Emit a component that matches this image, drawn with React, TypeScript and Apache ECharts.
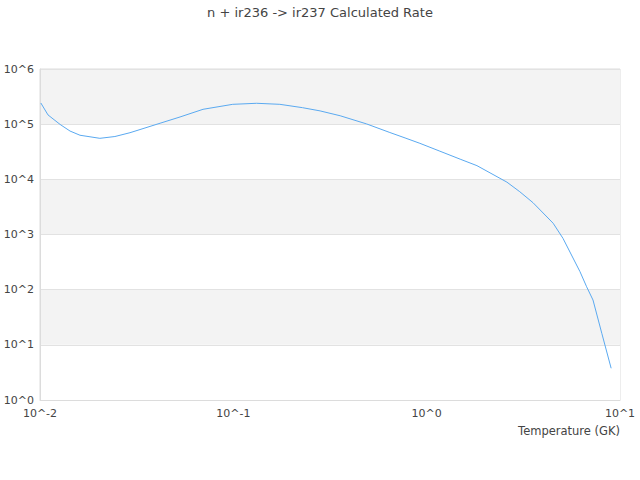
import React, { useEffect, useRef } from "react";
import * as echarts from "echarts";

const titleText = "n + ir236 -> ir237 Calculated Rate";
const xAxisName = "Temperature (GK)";

const temperatures = [
  0.0101, 0.011, 0.0127, 0.0143, 0.0161, 0.0204, 0.0244, 0.0292, 0.0418, 0.053,
  0.0697, 0.0993, 0.132, 0.174, 0.228, 0.281, 0.357, 0.489, 0.645, 0.773,
  0.922, 1.17, 1.49, 1.82, 2.6, 3.03, 3.55, 4.51, 5.07, 6.21,
  6.72, 7.25, 8.05, 9.0,
];
const rates = [
  2.42e5, 1.47e5, 9.9e4, 7.5e4, 6.3e4, 5.54e4, 5.97e4, 7.0e4, 1.04e5, 1.35e5,
  1.86e5, 2.29e5, 2.39e5, 2.29e5, 1.99e5, 1.74e5, 1.42e5, 1.01e5, 7.06e4, 5.63e4,
  4.5e4, 3.24e4, 2.32e4, 1.77e4, 8.9e3, 5.97e3, 3.77e3, 1.6e3, 853, 212,
  113, 65, 16.2, 3.76,
];

const FONT = "DejaVu Sans";

const powLabel = (v: number) => "10^" + Math.round(Math.log10(v));

export default function App() {
  const ref = useRef<HTMLDivElement>(null);
  useEffect(() => {
    if (!ref.current) return;
    const chart = echarts.init(ref.current, null, { renderer: "svg" });
    chart.setOption({
      animation: false,
      textStyle: { fontFamily: FONT },
      title: {
        text: titleText,
        left: "center",
        top: 1,
        textStyle: { fontSize: 13, fontWeight: "normal", color: "#444", fontFamily: FONT },
      },
      grid: {
        left: 40,
        right: 20,
        top: 69,
        bottom: 80,
        show: true,
        borderColor: "#dcdcdc",
        borderWidth: 1,
        backgroundColor: "transparent",
      },
      xAxis: {
        type: "log",
        logBase: 10,
        min: 0.01,
        max: 10,
        name: xAxisName,
        nameLocation: "end",
        nameGap: 0,
        nameTextStyle: {
          fontSize: 11.5,
          color: "#444",
          align: "right",
          verticalAlign: "top",
          padding: [25, 0, 0, 0],
        },
        axisLine: { show: true, lineStyle: { color: "#dcdcdc" } },
        axisTick: { show: false },
        splitLine: { show: false },
        axisLabel: { fontSize: 11, color: "#444", formatter: powLabel, margin: 8 },
      },
      yAxis: {
        type: "log",
        logBase: 10,
        min: 1,
        max: 1e6,
        axisLine: { show: true, lineStyle: { color: "#dcdcdc" } },
        axisTick: { show: false },
        splitLine: { show: true, lineStyle: { color: "#e2e2e2" } },
        splitArea: { show: true, areaStyle: { color: ["#ffffff", "#f3f3f3"] } },
        axisLabel: { fontSize: 11, color: "#444", formatter: powLabel, margin: 6 },
      },
      series: [
        {
          type: "line",
          data: temperatures.map((t, i) => [t, rates[i]]),
          showSymbol: false,
          smooth: false,
          lineStyle: { color: "#5aa9f0", width: 1 },
        },
      ],
    });
    return () => chart.dispose();
  }, []);
  return <div ref={ref} style={{ width: 640, height: 480, position: "absolute", left: 0, top: 0 }} />;
}
